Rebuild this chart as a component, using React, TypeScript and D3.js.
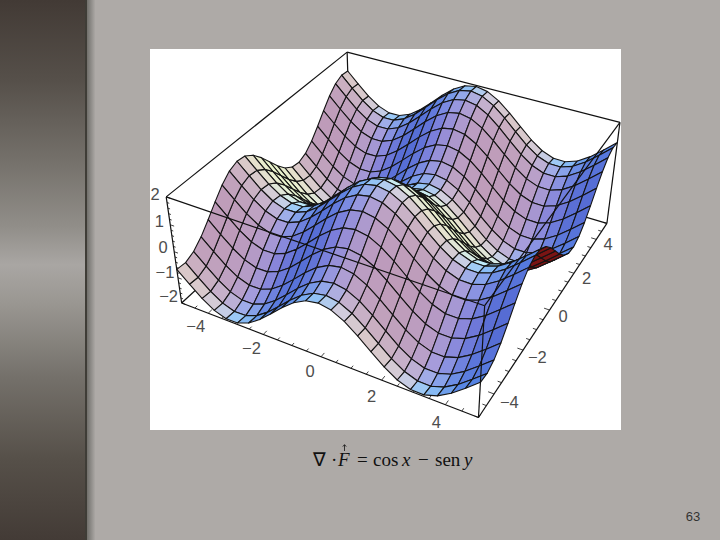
import React from "react";
import * as d3 from "d3";

// Surface profiles read at the 25 grid stations from -5 to 5 (caption: cos x - sen y)
const cosProfile = [0.284,-0.129,-0.519,-0.821,-0.982,-0.975,-0.801,-0.490,-0.096,0.315,0.673,0.915,1,0.915,0.673,0.315,-0.096,-0.490,-0.801,-0.975,-0.982,-0.821,-0.519,-0.129,0.284];
const sinProfile = [0.959,0.992,0.855,0.572,0.190,-0.223,-0.598,-0.872,-0.995,-0.949,-0.740,-0.405,0,0.405,0.740,0.949,0.995,0.872,0.598,0.223,-0.190,-0.572,-0.855,-0.992,-0.959];
const xTicks = [-4,-2,0,2,4];
const yTicks = [-4,-2,0,2,4];
const zTicks = [-2,-1,0,1,2];
const fmt = (v:number)=> v<0 ? "\u2212"+Math.abs(v) : String(v);

// Shading: slope along x (columns) and slope along y (rows)
const slopeStops = [-1,-0.5,0,0.5,1];
const shadeRowsByYSlope:string[][] = [
  // x slope:  -1         -0.5       0          0.5        1
  /* -1  */ ["rgb(235,245,205)","rgb(235,250,215)","rgb(230,255,225)","rgb(215,250,250)","rgb(195,240,250)"],
  /* -.5 */ ["rgb(230,225,205)","rgb(220,235,225)","rgb(190,235,250)","rgb(150,210,250)","rgb(100,150,235)"],
  /* 0   */ ["rgb(215,195,200)","rgb(205,200,225)","rgb(150,195,245)","rgb(125,175,242)","rgb(80,125,225)"],
  /* .5  */ ["rgb(195,165,190)","rgb(190,165,200)","rgb(165,160,225)","rgb(130,150,230)","rgb(88,118,220)"],
  /* 1   */ ["rgb(190,155,185)","rgb(185,155,195)","rgb(165,150,210)","rgb(130,130,220)","rgb(85,108,212)"],
];

// Camera anchors: box corner -> where it lands on the page
const anchors:[number,number,number,number,number][] = [
 [-5,-5,2,166,197],[-5,-5,-2,182,303],[5,-5,2,485,305],[5,-5,-2,478,418],
 [5,5,2,620,123],[5,5,-2,607,223],[-5,5,2,347,52],
];
function solveCamera(){
  const A:number[][]=[],b:number[]=[];
  anchors.forEach(([x,y,z,sx,sy])=>{
    const u=x/5,v=y/5,w=z/2;
    A.push([u,v,w,1,0,0,0,0,-sx*u,-sx*v,-sx*w]);b.push(sx);
    A.push([0,0,0,0,u,v,w,1,-sy*u,-sy*v,-sy*w]);b.push(sy);
  });
  const n=11;
  const M=d3.range(n).map(i=>{
    const row=d3.range(n).map(j=>d3.sum(A,r=>r[i]*r[j]));
    row.push(d3.sum(A,(r,k)=>r[i]*b[k]));return row;
  });
  for(let i=0;i<n;i++){
    let p=i;for(let r=i+1;r<n;r++)if(Math.abs(M[r][i])>Math.abs(M[p][i]))p=r;
    [M[i],M[p]]=[M[p],M[i]];
    for(let r=0;r<n;r++){if(r===i)continue;const f=M[r][i]/M[i][i];for(let c=i;c<=n;c++)M[r][c]-=f*M[i][c];}
  }
  return M.map((r,i)=>r[n]/r[i]);
}
const cam=solveCamera();
const sx=d3.scaleLinear().domain([-5,5]).range([-1,1]);
const sz=d3.scaleLinear().domain([-2,2]).range([-1,1]);
const gridX=d3.scaleLinear().domain([0,cosProfile.length-1]).range([-5,5]);
function depth(x:number,y:number,z:number){return cam[8]*sx(x)+cam[9]*sx(y)+cam[10]*sz(z)+1;}
function proj(x:number,y:number,z:number):[number,number]{
  const u=sx(x),v=sx(y),w=sz(z),d=depth(x,y,z);
  return [(cam[0]*u+cam[1]*v+cam[2]*w+cam[3])/d,(cam[4]*u+cam[5]*v+cam[6]*w+cam[7])/d];
}
// Each row of the table becomes a colour scale along the x slope
const rowScales=shadeRowsByYSlope.map(row=>
  d3.scaleLinear<string>().domain(slopeStops).range(row).interpolate(d3.interpolateRgb).clamp(true));
function shadeFront(p:number,q:number){
  const at=d3.scaleLinear().domain(slopeStops).range([0,1,2,3,4]).clamp(true)(q);
  const lo=Math.min(3,Math.floor(at));
  return d3.interpolateRgb(rowScales[lo](p),rowScales[lo+1](p))(at-lo);
}
// Underside of the sheet, seen only in the dip at the far right edge
const undersideRed="#7a1414";
const zAt=(i:number,j:number)=>cosProfile[i]-sinProfile[j];
type Cell={d:string;fill:string;depth:number};
function buildCells():Cell[]{
  const line=d3.line().curve(d3.curveLinearClosed);
  const out:Cell[]=[];
  const N=cosProfile.length-1;
  const h=gridX(1)-gridX(0);
  const refArea=d3.polygonArea([proj(-5,-5,0),proj(5,-5,0),proj(5,5,0),proj(-5,5,0)]);
  for(let i=0;i<N;i++)for(let j=0;j<N;j++){
    const c=[[i,j],[i+1,j],[i+1,j+1],[i,j+1]].map(([a,b])=>[gridX(a),gridX(b),zAt(a,b)]);
    const dzx=(zAt(i+1,j)+zAt(i+1,j+1)-zAt(i,j)-zAt(i,j+1))/(2*h);
    const dzy=(zAt(i,j+1)+zAt(i+1,j+1)-zAt(i,j)-zAt(i+1,j))/(2*h);
    const pts=c.map(p=>proj(p[0],p[1],p[2]));
    const area=d3.polygonArea(pts);
    const fill=area*refArea<0?undersideRed:shadeFront(dzx,dzy);
    out.push({d:line(pts)!,fill,depth:d3.mean(c,p=>depth(p[0],p[1],p[2]))!});
  }
  return out.sort((a,b)=>b.depth-a.depth);
}
const cells=buildCells();
const seg=(a:[number,number,number],b:[number,number,number])=>{
  const p=proj(...a),q=proj(...b);return `M${p[0]},${p[1]}L${q[0]},${q[1]}`;
};
const backEdges=[
  seg([-5,-5,2],[-5,5,2]),seg([-5,5,2],[5,5,2]),seg([-5,5,2],[-5,5,-2]),
  seg([-5,-5,-2],[-5,5,-2]),seg([-5,5,-2],[5,5,-2]),seg([5,5,2],[5,5,-2]),
  seg([-5,-5,-2],[5,-5,-2]),seg([5,-5,-2],[5,5,-2]),
];
const frontEdges=[
  seg([-5,-5,2],[5,-5,2]),seg([5,-5,2],[5,5,2]),seg([5,-5,2],[5,-5,-2]),seg([-5,-5,2],[-5,-5,-2]),
];
const minorX=d3.range(-5,5.01,0.5);
const minorZ=d3.range(-2,2.01,0.2);
const tickPaths:string[]=[
  ...minorX.map(v=>{const M=Math.abs(v%2)<1e-6;return seg([v,-5,-2],[v,M?-4.82:-4.88,-2]);}),
  ...minorX.map(v=>{const M=Math.abs(v%2)<1e-6;return seg([5,v,-2],[M?4.82:4.88,v,-2]);}),
  ...minorZ.map(v=>{const M=Math.abs(v%1)<1e-6;return seg([-5,-5,v],[M?-4.86:-4.92,-5,v]);}),
];
const sans="'Liberation Sans',Arial,sans-serif";
const serif="'Liberation Serif','Times New Roman',serif";

export default function App(){
  const bandStops=[[0,"#423a35"],[0.15,"#56504a"],[0.3,"#75716b"],[0.42,"#918e89"],[0.49,"#a9a6a3"],[0.56,"#9a9792"],[0.7,"#74706a"],[0.85,"#565049"],[1,"#433b36"]] as const;
  return (
    <svg width={720} height={540} style={{position:"absolute",left:0,top:0,display:"block"}}>
      <defs>
        <linearGradient id="band" x1="0" x2="0" y1="0" y2="1">
          {bandStops.map(([o,c])=><stop key={o} offset={o} stopColor={c}/>)}
        </linearGradient>
        <linearGradient id="shadow" x1="0" x2="1" y1="0" y2="0">
          <stop offset="0" stopColor="#74736f"/>
          <stop offset="1" stopColor="#aeaaa7"/>
        </linearGradient>
      </defs>
      <rect width={720} height={540} fill="#aeaaa7"/>
      <rect x={0} y={0} width={85} height={540} fill="url(#band)"/>
      <rect x={85} y={0} width={2.5} height={540} fill="#3f3d37"/>
      <rect x={87.5} y={0} width={8} height={540} fill="url(#shadow)"/>
      <rect x={150} y={49} width={471} height={381} fill="#fff"/>
      <g fill="none" stroke="#111" strokeWidth={1.2}>
        {backEdges.map((d,i)=><path key={i} d={d}/>)}
        {tickPaths.map((d,i)=><path key={i} d={d} strokeWidth={0.8}/>)}
      </g>
      <g stroke="#141414" strokeWidth={1.1} strokeLinejoin="round">
        {cells.map((c,i)=><path key={i} d={c.d} fill={c.fill}/>)}
      </g>
      <g fill="none" stroke="#111" strokeWidth={1.2}>
        {frontEdges.map((d,i)=><path key={i} d={d}/>)}
      </g>
      <g fontFamily={sans} fontSize={16.5} fill="#4d4d4d" textAnchor="middle">
        {xTicks.map(v=>{const p=proj(v,-5.95,-2);return <text key={v} x={p[0]+7} y={p[1]}>{fmt(v)}</text>;})}
        {yTicks.map(v=>{const p=proj(5.85,v,-2);return <text key={v} x={p[0]-13} y={p[1]+3}>{fmt(v)}</text>;})}
        {zTicks.map(v=>{const p=proj(-5,-5,v);return <text key={v} x={p[0]-11-(v<0?2:0)} y={p[1]+1+v}>{fmt(v)}</text>;})}
      </g>
      <g fontFamily={serif} fontSize={19} fill="#111">
        <text x={313} y={466}>{"\u2207"}</text>
        <text x={331} y={466}>{"\u00b7"}</text>
        <text x={338} y={466} fontStyle="italic">F</text>
        <path d="M344.5,451V445M342.8,446.6L344.5,444.6L346.2,446.6" fill="none" stroke="#111" strokeWidth={0.8}/>
        <text x={357} y={466}>=</text>
        <text x={373} y={466}>cos</text>
        <text x={402} y={466} fontStyle="italic">x</text>
        <text x={418} y={466}>{"\u2212"}</text>
        <text x={435} y={466}>sen</text>
        <text x={464} y={466} fontStyle="italic">y</text>
      </g>
      <text x={693} y={521} fontFamily={sans} fontSize={13} fill="#333" textAnchor="middle">63</text>
    </svg>
  );
}
